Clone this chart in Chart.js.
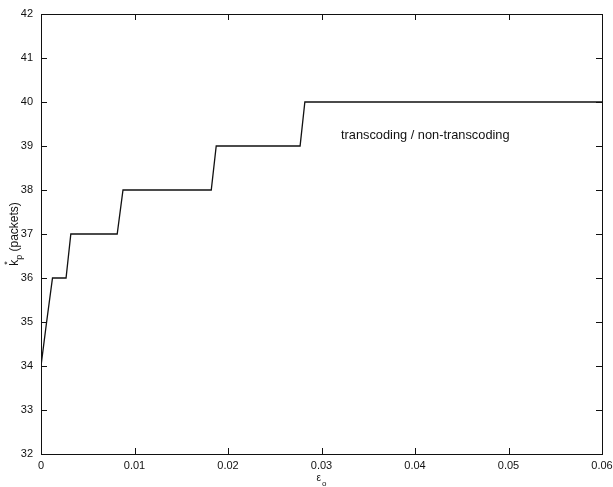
<!DOCTYPE html>
<html>
<head>
    <title>Optimal packet count k*p versus εo</title>
    <style>
        html, body { margin: 0; padding: 0; background: #fff; }
        #wrap { width: 613px; height: 487px; }
    </style>
    <script src="https://cdn.jsdelivr.net/npm/chart.js@4"></script>
</head>
<body>
<div id="wrap"><canvas id="kpChart" width="613" height="487"></canvas></div>
<script>
// staircase of k*_p against eps_o
const epsilon = [0, 0.0006, 0.00123, 0.00268, 0.00319, 0.00815, 0.00877, 0.01821, 0.01874, 0.02771, 0.02822, 0.06];
const kp = [34, 35, 36, 36, 37, 37, 38, 38, 39, 39, 40, 40];
const xTicks = [0, 0.01, 0.02, 0.03, 0.04, 0.05, 0.06];
const yTicks = [32, 33, 34, 35, 36, 37, 38, 39, 40, 41, 42];
const curveLabel = 'transcoding / non-transcoding';

const FONT = '"Liberation Sans", Arial, Helvetica, sans-serif';

// frame, inward ticks, in-plot label and axis titles
const framePlugin = {
    id: 'frame',
    afterDraw(chart) {
        const { ctx, chartArea: a, scales: { x, y } } = chart;
        ctx.save();
        ctx.strokeStyle = '#111';
        ctx.lineWidth = 1;
        ctx.strokeRect(a.left + 0.5, a.top + 0.5, a.right - a.left, a.bottom - a.top);
        ctx.beginPath();
        const t = 6;
        xTicks.forEach(v => {
            const px = Math.round(x.getPixelForValue(v)) + 0.5;
            ctx.moveTo(px, a.bottom); ctx.lineTo(px, a.bottom - t);
            ctx.moveTo(px, a.top); ctx.lineTo(px, a.top + t);
        });
        yTicks.forEach(v => {
            const py = Math.round(y.getPixelForValue(v)) + 0.5;
            ctx.moveTo(a.left, py); ctx.lineTo(a.left + t, py);
            ctx.moveTo(a.right, py); ctx.lineTo(a.right - t, py);
        });
        ctx.stroke();

        ctx.fillStyle = '#111';
        ctx.font = '12.8px ' + FONT;
        ctx.textAlign = 'center';
        ctx.textBaseline = 'middle';
        ctx.fillText(curveLabel, x.getPixelForValue(0.0411), y.getPixelForValue(39.25));

        // x title: eps with subscript o
        const cx = (a.left + a.right) / 2;
        ctx.textAlign = 'left';
        ctx.textBaseline = 'alphabetic';
        ctx.font = '10px ' + FONT;
        ctx.fillText('\u03b5', cx - 5, 481);
        ctx.font = '8px ' + FONT;
        ctx.fillText('o', cx + 0.5, 486);

        // y title: k with superscript * and subscript p, then (packets)
        const cy = (a.top + a.bottom) / 2;
        ctx.translate(18, cy);
        ctx.rotate(-Math.PI / 2);
        ctx.font = '12px ' + FONT;
        const w1 = ctx.measureText('k').width;
        ctx.font = '9px ' + FONT;
        const w2 = ctx.measureText('p').width;
        ctx.font = '12px ' + FONT;
        const w3 = ctx.measureText(' (packets)').width;
        let sx = -(w1 + w2 + w3) / 2;
        ctx.fillText('k', sx, 0);
        ctx.font = '9px ' + FONT;
        ctx.fillText('*', sx + 1, -8);
        ctx.fillText('p', sx + w1, 4);
        ctx.font = '12px ' + FONT;
        ctx.fillText(' (packets)', sx + w1 + w2, 0);
        ctx.restore();
    }
};

new Chart(document.getElementById('kpChart').getContext('2d'), {
    type: 'scatter',
    data: {
        datasets: [{
            label: curveLabel,
            data: epsilon.map((e, i) => ({ x: e, y: kp[i] })),
            showLine: true,
            borderColor: '#111',
            borderWidth: 1.3,
            pointRadius: 0,
            tension: 0
        }]
    },
    options: {
        responsive: false,
        animation: false,
        layout: { padding: { top: 14, right: 11, left: 0, bottom: 0 } },
        plugins: { legend: { display: false }, tooltip: { enabled: false } },
        scales: {
            x: {
                type: 'linear',
                min: 0, max: 0.06,
                afterBuildTicks: s => { s.ticks = xTicks.map(v => ({ value: v })); },
                afterFit: s => { s.height = 33; s.paddingLeft = 0; s.paddingRight = 0; },
                grid: { display: false, drawTicks: false },
                border: { display: false },
                ticks: {
                    color: '#111',
                    padding: 5,
                    maxRotation: 0,
                    font: { family: FONT, size: 11 },
                    callback: v => String(+v.toFixed(2))
                }
            },
            y: {
                min: 32, max: 42,
                afterBuildTicks: s => { s.ticks = yTicks.map(v => ({ value: v })); },
                afterFit: s => { s.width = 41; s.paddingTop = 0; s.paddingBottom = 0; },
                grid: { display: false, drawTicks: false },
                border: { display: false },
                ticks: {
                    color: '#111',
                    padding: 8,
                    font: { family: FONT, size: 11 }
                }
            }
        }
    },
    plugins: [framePlugin]
});
</script>
</body>
</html>
